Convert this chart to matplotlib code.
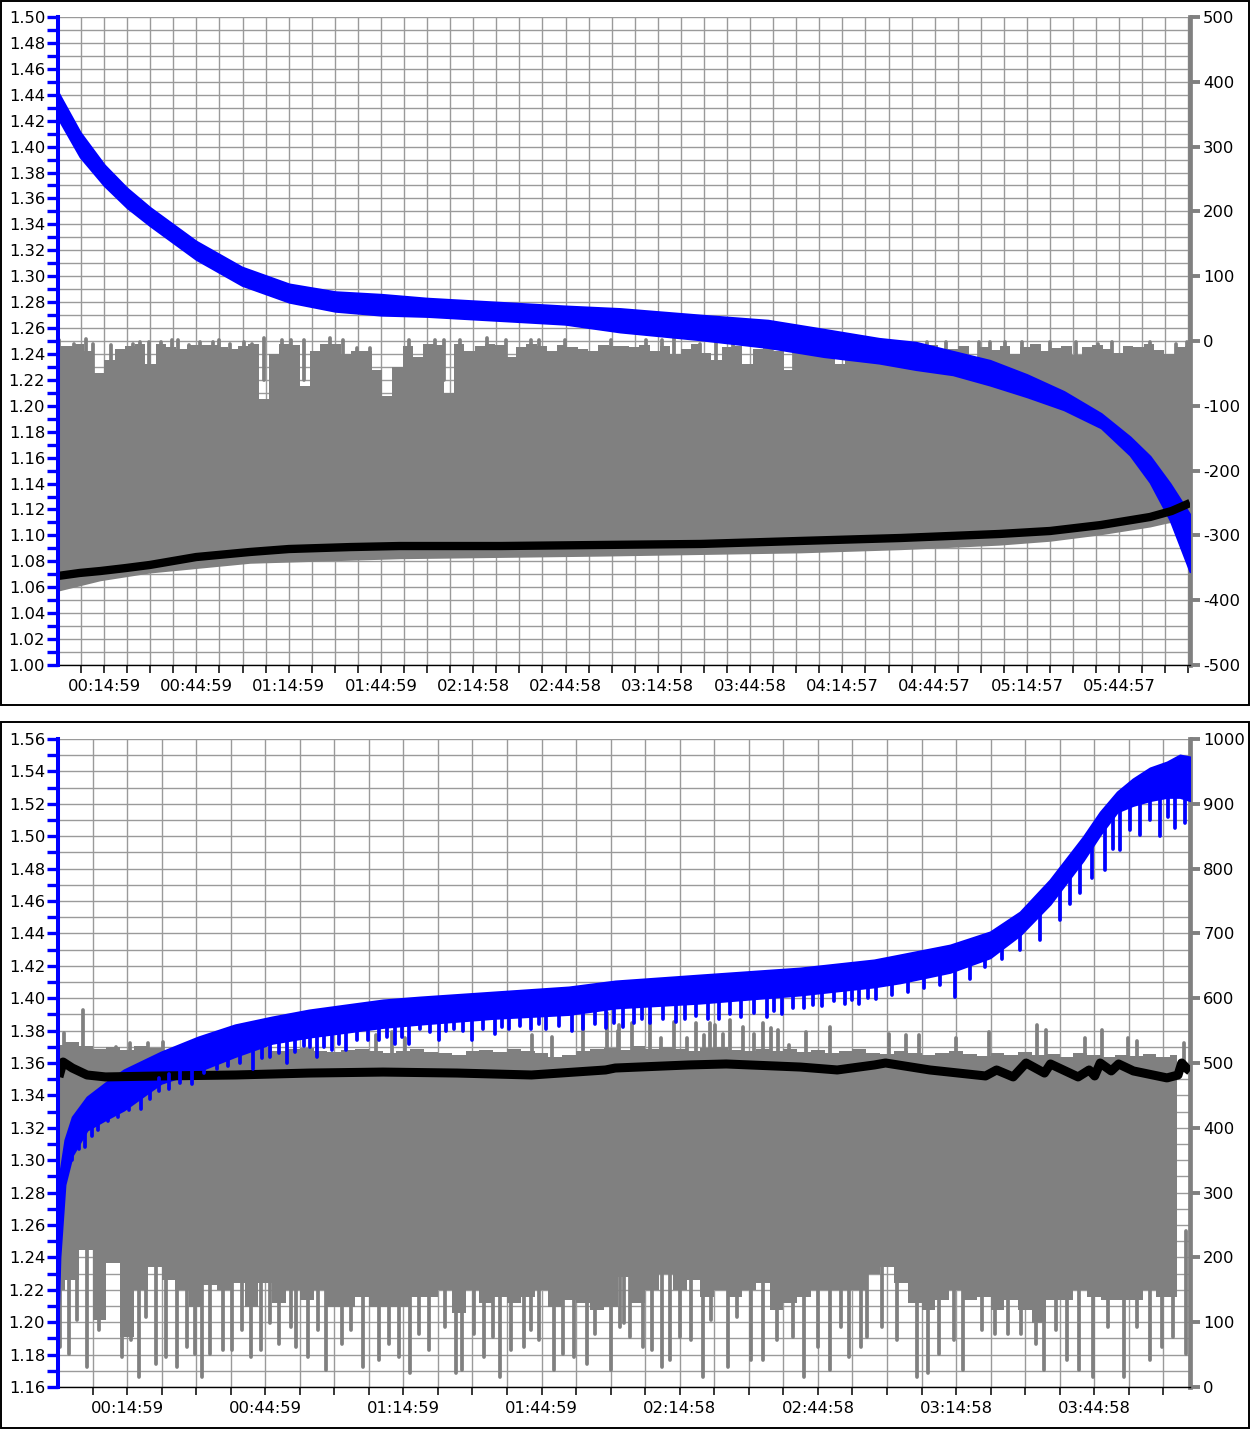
import numpy as np
import matplotlib
matplotlib.use("Agg")
import matplotlib.pyplot as plt
from matplotlib.patches import Rectangle
from matplotlib.ticker import MultipleLocator, FormatStrFormatter

# ------------------------------------------------------------------ data (top panel)
top_xmax = 368.0
top_tick_minutes = list(np.arange(7.5, 368.0, 7.5))
top_label_minutes = [15, 45, 75, 105, 135, 165, 195, 225, 255, 285, 315, 345]
top_labels = ["00:14:59", "00:44:59", "01:14:59", "01:44:59", "02:14:58", "02:44:58",
              "03:14:58", "03:44:58", "04:14:57", "04:44:57", "05:14:57", "05:44:57"]

top_blue_t = [0, 7.2, 15.0, 22.4, 29.9, 44.9, 59.8, 75.1, 90.1, 105.0, 120.0, 134.9, 149.9,
              164.8, 182.7, 208.7, 230.8, 249.0, 266.9, 278.9, 290.9, 303.0, 315.0, 327.0,
              339.1, 348.5, 355.0, 361.5, 368.0]
top_blue_hi = [1.442, 1.411, 1.386, 1.368, 1.353, 1.327, 1.307, 1.294, 1.288, 1.286, 1.283,
               1.281, 1.279, 1.277, 1.275, 1.270, 1.266, 1.259, 1.252, 1.249, 1.242, 1.235,
               1.224, 1.211, 1.194, 1.176, 1.161, 1.140, 1.116]
top_blue_lo = [1.422, 1.392, 1.370, 1.353, 1.339, 1.313, 1.293, 1.280, 1.273, 1.270, 1.269,
               1.267, 1.265, 1.263, 1.257, 1.251, 1.245, 1.238, 1.233, 1.228, 1.224, 1.216,
               1.207, 1.197, 1.183, 1.162, 1.141, 1.112, 1.072]

top_black_t = [0, 7, 13.7, 22, 29.9, 44.9, 62.4, 75.1, 95, 111, 144, 176, 209, 241, 274, 306,
               322.5, 339, 355, 362, 368]
top_black_v = [1.0687, 1.0710, 1.0725, 1.0748, 1.0772, 1.0833, 1.0872, 1.0895, 1.0910, 1.0918,
               1.0918, 1.0926, 1.0934, 1.0957, 1.0980, 1.1011, 1.1034, 1.1080, 1.1142, 1.1188,
               1.1250]

top_gray_lo_t = [0, 13.7, 29.9, 62.4, 111, 176, 241, 274, 306, 322.5, 339, 355, 368]
top_gray_lo = [-386, -370, -358, -343, -336, -332, -327, -322, -315, -309, -299, -287, -273]
top_gray_base = -95
top_gray_env = [-8, -8, -5, -15, -50, -30, -12, -8, -5, -35, -5, -10, -12, -6, -6, -6, -10, -12,
                -8, -5, -90, -20, -5, -6, -70, -15, -4, -4, -20, -15, -15, -45, -85, -40, -8,
                -25, -4, -6, -80, -5, -15, -8, -4, -6, -25, -10, -5, -8, -15, -6, -10, -12, -15,
                -6, -8, -8,
                -10, -6, -15, -8, -20, -12, -5, -18, -30, -10, -8, -35, -12, -6, -15, -45, -10,
                -8, -22, -12, -35, -10, -7, -15, -20, -9, -12, -40, -10, -6, -18, -12, -8, -25,
                -10, -14, -7, -20, -9, -5, -16, -11, -8, -22, -10, -6, -12, -18, -8, -10, -5,
                -14, -20, -9, -7]
top_gspk_t = [0.4, 2.5, 5.2, 9.1, 11.3, 17.3, 22.7, 24.5, 26.7, 29.7, 33.5, 37.1, 38.9, 42.6,
              46.2, 50.4, 52.4, 56.0, 60.6, 63.0, 67.0, 72.7, 75.7, 79.9, 88.3, 92.5, 97.3,
              101.5, 114.2, 122.6, 125.6, 130.7, 139.5, 145.7, 153.9, 156.3, 164.7, 179.8,
              191.1, 196.5, 200.2, 208.6, 214.0, 219.4, 239.3, 282.6, 288.7, 299.5, 303.1,
              307.9, 313.3, 322.4, 330.8, 338.0, 342.8, 354.9, 363.3, 366.9]
top_gspk_v = [1.5, -14, -4, 3, -4, -6, -11, -4, -1, -1, -1, 1.5, 1.5, -6, -1, -1, 1.5, -4, -1,
              -4, 4, 1.5, 1.5, 1.5, 4, 1.5, -11, -11, 1.5, 1.5, 1.5, 1.5, 4, 1.5, 1.5, 1.5, 1.5,
              1.5, 1.5, 1.5, 4, -4, -1, -4, -6, -1, -1, -1, -1, -1, -1, -1, -1, -4, -1, -1, -4,
              -1]

# ------------------------------------------------------------------ data (bottom panel)
bot_xmax = 245.8
bot_tick_minutes = list(np.arange(7.5, 245.0, 7.5))
bot_label_minutes = [15, 45, 75, 105, 135, 165, 195, 225]
bot_labels = ["00:14:59", "00:44:59", "01:14:59", "01:44:59", "02:14:58", "02:44:58",
              "03:14:58", "03:44:58"]

bot_blue_t = [0, 0.4, 1.5, 3.1, 6.3, 10.3, 14.3, 22.4, 30.4, 38.4, 46.5, 54.5, 62.5, 70.6,
              78.6, 94.7, 110.9, 121.0, 139.4, 161.1, 177.2, 182.8, 193.7, 202.4, 208.9,
              215.4, 222.6, 226.3, 230.0, 233.4, 237.1, 240.8, 243.6, 245.8]
bot_blue_hi = [1.250, 1.292, 1.3125, 1.3267, 1.339, 1.3477, 1.3557, 1.3668, 1.376, 1.3835,
               1.3884, 1.3927, 1.3958, 1.3989, 1.4007, 1.4038, 1.4069, 1.4106, 1.4143, 1.4186,
               1.4236, 1.4267, 1.4328, 1.4409, 1.4532, 1.4730, 1.4995, 1.5149, 1.5273, 1.5353,
               1.5421, 1.5458, 1.5501, 1.5489]
bot_blue_lo = [1.198, 1.240, 1.285, 1.303, 1.3186, 1.325, 1.331, 1.3475, 1.355, 1.364, 1.3722,
               1.376, 1.379, 1.382, 1.384, 1.3876, 1.390, 1.394, 1.397, 1.402, 1.407, 1.4095,
               1.416, 1.425, 1.439, 1.458, 1.485, 1.501, 1.515, 1.519, 1.522, 1.524, 1.524,
               1.522]
bot_bspk_t = [3.1, 5.9, 8.7, 13.1, 18.0, 20.0, 24.0, 26.4, 29.2, 34.5, 36.9, 42.3, 46.1, 49.7,
              53.4, 56.2, 59.4, 62.6, 67.4, 69.8, 73.1, 76.3, 78.7, 82.7, 85.9, 89.9, 94.8,
              98.0, 102.8, 106.0, 111.7, 114.1, 118.9, 122.6, 125.0, 128.6, 134.2, 136.2,
              141.1, 143.5, 148.3, 153.9, 157.2, 162.0, 166.0, 170.8, 174.0, 177.7, 194.8,
              201.3, 208.9, 217.6, 221.9, 227.4, 230.6, 235.0, 239.3, 242.6]
bot_bspk_v = [1.3001, 1.3081, 1.3186, 1.3267, 1.3319, 1.3375, 1.3437, 1.3474, 1.3468, 1.3566,
              1.3579, 1.3566, 1.3640, 1.3597, 1.3702, 1.3640, 1.3683, 1.3683, 1.3745, 1.3745,
              1.3720, 1.3720, 1.3807, 1.3745, 1.3807, 1.3745, 1.3782, 1.3807, 1.3807, 1.3807,
              1.3795, 1.3807, 1.3813, 1.3825, 1.3844, 1.3844, 1.3856, 1.3869, 1.3869, 1.3869,
              1.3887, 1.3887, 1.3900, 1.3937, 1.3949, 1.3967, 1.3967, 1.3998, 1.4010, 1.4193,
              1.4298, 1.4483, 1.4649, 1.4791, 1.4915, 1.5007, 1.5001, 1.5051]
bot_bspk2_t = [4.5, 7.3, 10.9, 15.5, 22.0, 31.8, 39.6, 44.2, 47.9, 51.5, 54.8, 57.8, 61.0, 65.0,
               71.4, 74.7, 80.7, 84.3, 87.9, 92.3, 96.4, 100.4, 104.4, 108.8, 116.5, 120.7,
               126.8, 131.4, 138.6, 145.9, 151.1, 155.5, 159.6, 164.0, 168.4, 172.4, 175.8,
               181.0, 184.5, 188.0, 191.5, 198.0, 205.0, 213.2, 219.8, 224.6, 229.0, 232.8,
               237.2, 241.0, 244.8]
bot_bspk2_v = [1.307, 1.315, 1.324, 1.331, 1.343, 1.354, 1.360, 1.363, 1.366, 1.367, 1.370,
               1.370, 1.372, 1.374, 1.376, 1.376, 1.379, 1.380, 1.380, 1.381, 1.382, 1.383,
               1.384, 1.383, 1.384, 1.385, 1.387, 1.387, 1.389, 1.390, 1.391, 1.392, 1.394,
               1.396, 1.398, 1.399, 1.400, 1.402, 1.404, 1.406, 1.408, 1.412, 1.424, 1.436,
               1.458, 1.474, 1.492, 1.504, 1.510, 1.512, 1.508]

bot_black_t = [0.2, 1.1, 3.1, 6.3, 10.3, 22.4, 38.5, 54.6, 70.6, 86.7, 102.8, 118.9, 121.0,
               137.0, 145.1, 161.2, 169.2, 177.3, 179.7, 189.3, 201.4, 203.8, 207.4, 210.2,
               214.2, 215.5, 221.5, 223.9, 225.1, 226.3, 228.7, 230.3, 233.5, 240.8, 243.2,
               244.0, 245.2, 245.8]
bot_black_v = [1.3514, 1.3606, 1.3569, 1.3526, 1.3514, 1.3520, 1.3526, 1.3538, 1.3544, 1.3538,
               1.3526, 1.3557, 1.3569, 1.3588, 1.3594, 1.3575, 1.3557, 1.3588, 1.3600, 1.3557,
               1.3520, 1.3557, 1.3514, 1.3600, 1.3538, 1.3594, 1.3514, 1.3557, 1.3520, 1.3600,
               1.3551, 1.3594, 1.3551, 1.3508, 1.3526, 1.3600, 1.3563, 1.3550]

bot_gray_step = 3.0
bot_gray_up = [528, 532, 526, 522, 524, 520, 526, 523, 518, 521, 517, 522, 519, 516, 520, 524,
               518, 521, 523, 519, 517, 520, 522, 518, 516, 519, 521, 517, 515, 512, 518, 520,
               517, 522, 519, 515, 509, 513, 518, 521, 523, 520, 526, 522, 524, 521, 519, 523,
               525, 520, 518, 521, 519, 522, 517, 520, 515, 518, 521, 516, 514, 519, 516, 512,
               515, 518, 514, 511, 516, 513, 517, 512, 514, 510, 515, 512, 509, 513, 511, 514,
               510, 512]
bot_gray_lo = [150, 165, 211, 103, 191, 77, 150, 185, 165, 150, 123, 157, 150, 160, 123, 160,
               130, 150, 134, 150, 124, 124, 139, 124, 124, 124, 139, 139, 150, 114, 150, 129,
               139, 129, 139, 150, 124, 134, 129, 119, 124, 170, 129, 150, 175, 150, 165, 139,
               150, 139, 150, 160, 119, 129, 139, 150, 150, 150, 150, 175, 185, 160, 129, 119,
               134, 150, 134, 139, 119, 134, 119, 98, 134, 134, 150, 139, 134, 134, 134, 150,
               139, 139]
bot_gup_t = [1.2, 5.5, 12.7, 15.6, 19.6, 22.8, 69.0, 72.6, 75.4, 103.0, 107.2, 114.0, 119.2,
             121.6, 121.8, 124.6, 128.6, 131.0, 133.8, 136.6, 138.5, 140.3, 141.5, 142.7, 144.3,
             145.9, 148.7, 151.1, 153.1, 154.8, 156.4, 158.8, 162.4, 167.6, 180.5, 184.1, 186.9,
             194.9, 202.1, 212.6, 214.6, 223.0, 226.7, 232.4, 234.4, 244.4]
bot_gup_v = [546, 582, 525, 531, 531, 532, 543, 548, 539, 543, 540, 577, 577, 549, 559, 562,
             571, 539, 563, 539, 562, 543, 562, 559, 545, 566, 556, 545, 562, 554, 551, 528,
             548, 556, 545, 543, 543, 539, 548, 559, 551, 539, 551, 539, 534, 531]
bot_glo_t = [0.5, 2.4, 4.2, 6.3, 8.9, 13.8, 15.8, 17.6, 19.1, 21.3, 23.5, 25.9, 28.1, 29.7,
             31.3, 33.1, 35.9, 37.7, 39.9, 41.8, 44.0, 46.0, 48.0, 50.5, 51.7, 54.3, 56.5, 58.1,
             61.6, 63.6, 66.2, 69.8, 71.9, 74.0, 76.5, 78.3, 80.6, 84.0, 86.4, 87.7, 90.4, 92.5,
             94.4, 96.0, 98.4, 101.2, 102.7, 104.4, 107.7, 109.7, 112.1, 114.9, 116.5, 120.1,
             122.1, 123.0, 124.2, 127.0, 128.9, 131.1, 132.9, 135.1, 137.5, 140.1, 141.8, 145.5,
             147.5, 150.4, 153.0, 156.2, 159.5, 162.0, 165.1, 167.7, 170.1, 171.8, 174.3, 175.7,
             178.9, 182.1, 186.6, 189.0, 191.4, 194.6, 196.6, 200.6, 203.5, 206.3, 209.1, 212.3,
             214.2, 216.6, 219.1, 221.6, 224.8, 228.0, 231.4, 234.4, 237.1, 239.7, 242.1, 244.9]
bot_glo_v = [62, 51, 103, 31, 88, 46, 72, 15, 108, 36, 46, 31, 62, 51, 15, 51, 57, 57, 88, 46,
             57, 98, 67, 93, 62, 46, 88, 26, 67, 88, 31, 41, 67, 46, 21, 82, 57, 93, 21, 26,
             82, 46, 77, 15, 57, 62, 88, 72, 26, 51, 46, 36, 82, 26, 93, 98, 77, 62, 57, 31,
             41, 77, 72, 15, 103, 31, 108, 41, 41, 72, 77, 15, 62, 26, 93, 46, 62, 77, 93, 72,
             15, 21, 51, 72, 26, 88, 82, 82, 82, 67, 26, 88, 41, 26, 15, 93, 15, 93, 41, 62,
             77, 51]

# ------------------------------------------------------------------ styling
W, H = 1250, 1433
FS = 11.8
BLUE = "#0000ff"
GRAY = "#808080"
GRID = "#9a9a9a"

fig = plt.figure(figsize=(W / 100, H / 100), dpi=100)
fig.patch.set_facecolor("white")


def box(l, t, r, b):
    return [l / W, 1 - b / H, (r - l) / W, (b - t) / H]


def make_panel(rect, vlim, ilim, imajor, igrid, xmax, ticks, label_minutes, labels):
    axI = fig.add_axes(rect)
    axV = fig.add_axes(rect)
    axV.patch.set_visible(False)
    for a in (axI, axV):
        a.set_xlim(0, xmax)
    axI.set_ylim(*ilim)
    axV.set_ylim(*vlim)

    # back axis: current (right), time axis and grid
    axI.yaxis.tick_right()
    axI.set_yticks(np.arange(ilim[0], ilim[1] + 1, imajor))
    axI.set_yticks(np.arange(ilim[0], ilim[1] + 1, igrid), minor=True)
    axI.yaxis.set_major_formatter(FormatStrFormatter("%d"))
    axI.tick_params(axis="y", which="major", direction="out", colors=GRAY, length=7.5,
                    width=2.8, pad=2, labelsize=FS, labelcolor="black")
    axI.tick_params(axis="y", which="minor", length=0)
    axI.set_xticks(ticks)
    axI.set_xticklabels([labels[label_minutes.index(int(round(t)))]
                         if abs(t - round(t)) < 1e-6 and int(round(t)) in label_minutes else ""
                         for t in ticks])
    axI.tick_params(axis="x", direction="out", length=6, width=1.1, color="black", pad=4,
                    labelsize=FS, labelcolor="black")
    axI.grid(True, which="both", axis="y", color=GRID, lw=1)
    axI.grid(True, which="major", axis="x", color=GRID, lw=1)
    axI.set_axisbelow(True)
    for s in ("left", "top"):
        axI.spines[s].set_visible(False)
    axI.spines["right"].set_color(GRAY)
    axI.spines["right"].set_linewidth(3.4)
    axI.spines["bottom"].set_color("black")
    axI.spines["bottom"].set_linewidth(1.0)

    # front axis: voltage (left)
    axV.yaxis.set_major_locator(MultipleLocator(0.02))
    axV.yaxis.set_minor_locator(MultipleLocator(0.01))
    axV.yaxis.set_major_formatter(FormatStrFormatter("%.2f"))
    axV.tick_params(axis="y", which="both", direction="out", colors=BLUE, length=7.7,
                    width=2.4, pad=1.5, labelsize=FS, labelcolor="black")
    axV.tick_params(axis="x", which="both", bottom=False, labelbottom=False)
    for s in ("right", "top", "bottom"):
        axV.spines[s].set_visible(False)
    axV.spines["left"].set_color(BLUE)
    axV.spines["left"].set_linewidth(2.9)
    return axI, axV


# ------------------------------------------------------------------ top panel
axI, axV = make_panel(box(58, 17, 1190, 665), (1.0, 1.5), (-500, 500), 100, 20, top_xmax,
                      top_tick_minutes, top_label_minutes, top_labels)
t_env = np.linspace(0, top_xmax, len(top_gray_env))
axI.fill_between(top_gray_lo_t, top_gray_lo, top_gray_base, color=GRAY, lw=0)
axI.fill_between(t_env, top_gray_base - 2, top_gray_env, step="mid", color=GRAY, lw=0)
axI.vlines(top_gspk_t, -60, top_gspk_v, color=GRAY, lw=2.7, capstyle="round")
axV.fill_between(top_blue_t, top_blue_lo, top_blue_hi, color=BLUE, ec=BLUE, lw=1.5)
axV.plot(top_black_t, top_black_v, color="black", lw=6, solid_capstyle="butt")

# ------------------------------------------------------------------ bottom panel
axI2, axV2 = make_panel(box(58, 739, 1190, 1387), (1.16, 1.56), (0, 1000), 100, 25, bot_xmax,
                        bot_tick_minutes, bot_label_minutes, bot_labels)
t_g = np.arange(len(bot_gray_up)) * bot_gray_step
axI2.fill_between(t_g, bot_gray_lo, bot_gray_up, step="mid", color=GRAY, lw=0)
axI2.vlines(bot_glo_t, bot_glo_v, 240, color=GRAY, lw=2.7, capstyle="round")
axI2.vlines(bot_gup_t, 490, bot_gup_v, color=GRAY, lw=2.7, capstyle="round")
axV2.plot(bot_black_t, bot_black_v, color="black", lw=6.5, solid_capstyle="butt")
axV2.fill_between(bot_blue_t, bot_blue_lo, bot_blue_hi, color=BLUE, ec=BLUE, lw=1.5)
for st, sv in ((bot_bspk_t, bot_bspk_v), (bot_bspk2_t, bot_bspk2_v)):
    spk_top = np.interp(st, bot_blue_t, bot_blue_lo) + 0.004
    axV2.vlines(st, sv, spk_top, color=BLUE, lw=2.7, capstyle="round")

# ------------------------------------------------------------------ panel frames
for top, bottom in ((1, 705), (722, 1428)):
    fig.add_artist(Rectangle((1 / W, 1 - bottom / H), (W - 2.5) / W, (bottom - top) / H,
                             transform=fig.transFigure, fill=False, ec="black", lw=1.4))

fig.savefig("out.png", dpi=100, facecolor="white")
